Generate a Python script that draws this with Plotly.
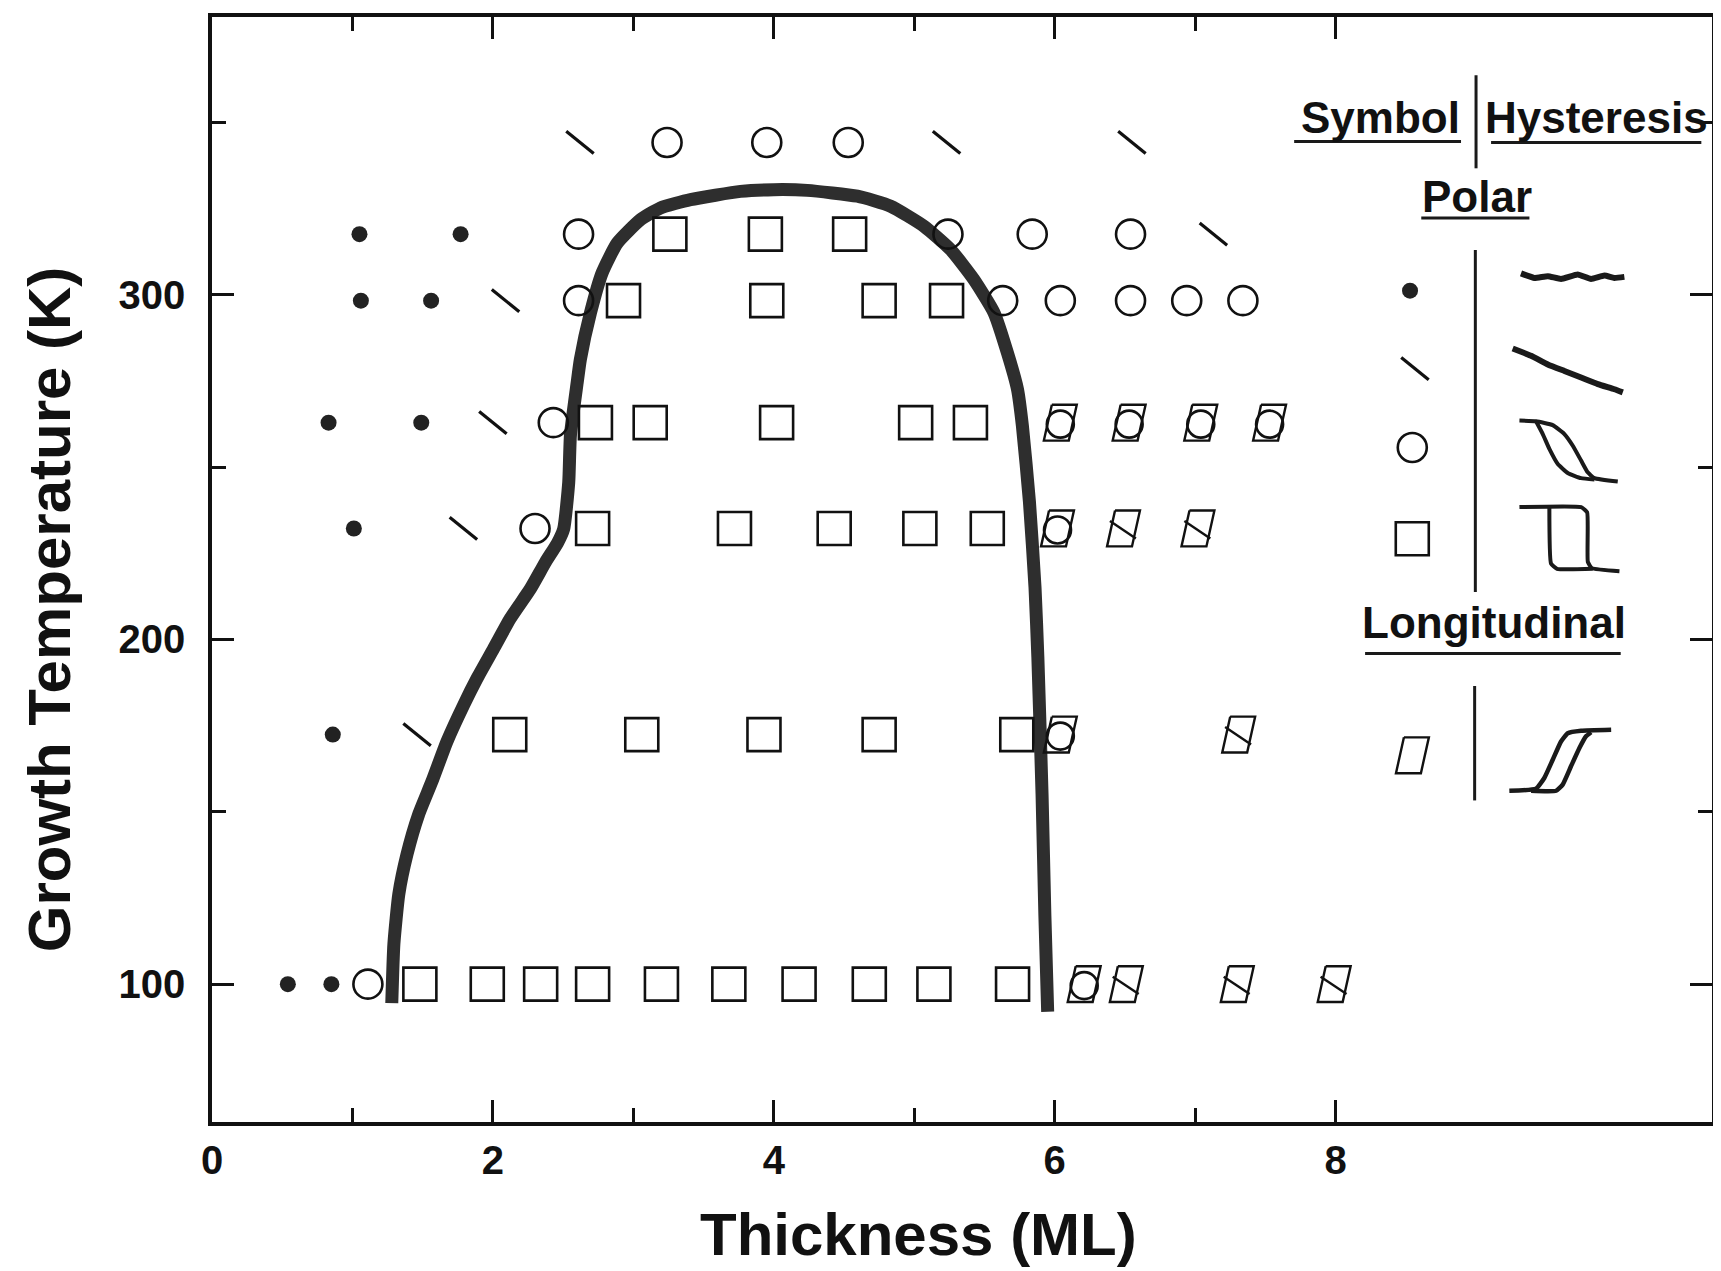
import plotly.graph_objects as go

# ---------------- data ----------------
# growth temperature (K) of each measured row
T_ROWS = [344.2, 317.6, 298.3, 262.9, 232.2, 172.4, 100.0]

# thickness (ML) of measurements per row, grouped by symbol class
dot_x = [[], [1.05, 1.77], [1.06, 1.56], [0.83, 1.49], [1.01], [0.86], [0.54, 0.85]]
slash_x = [[2.62, 5.23, 6.55], [7.13], [2.09], [2.00], [1.79], [1.46], []]
circle_x = [[3.24, 3.95, 4.53], [2.61, 5.24, 5.84, 6.54], [2.61, 5.63, 6.04, 6.54, 6.94, 7.34],
            [2.43], [2.30], [], [1.11]]
square_x = [[], [3.26, 3.94, 4.54], [2.93, 3.95, 4.75, 5.23], [2.73, 3.12, 4.02, 5.01, 5.40],
            [2.71, 3.72, 4.43, 5.04, 5.52], [2.12, 3.06, 3.93, 4.75, 5.73],
            [1.48, 1.96, 2.34, 2.71, 3.20, 3.68, 4.18, 4.68, 5.14, 5.70]]
circ_para_x = [[], [], [], [6.04, 6.53, 7.04, 7.53], [6.02], [6.04], [6.21]]
slash_para_x = [[], [], [], [], [6.49, 7.02], [7.31], [6.51, 7.30, 7.99]]

# phase boundary (thick line)
curve_x = [1.28, 1.295, 1.33, 1.388, 1.471, 1.566, 1.673, 1.792, 1.887, 2.006, 2.124, 2.267,
           2.374, 2.46, 2.504, 2.540, 2.552, 2.60, 2.623, 2.695, 2.778, 2.885, 3.051, 3.193,
           3.407, 3.763, 4.0, 4.238, 4.595, 4.832, 5.069, 5.259, 5.425, 5.568, 5.663, 5.735,
           5.770, 5.82, 5.86, 5.88, 5.91, 5.93, 5.95]
curve_T = [94.5, 111.6, 126.1, 137.6, 149.2, 158.8, 170.4, 181.0, 188.7, 197.4, 206.1, 214.7,
           222.4, 228.0, 232.1, 245.6, 259.2, 274.5, 281.3, 294.8, 306.4, 315.0, 321.8, 325.2,
           327.6, 330.0, 330.5, 330.3, 328.6, 325.7, 319.9, 313.1, 304.4, 294.8, 283.2, 272.6,
           262.0, 240.0, 215.0, 195.0, 155.0, 120.0, 92.0]

# legend sketches of hysteresis loops
hyst_flat_x = [9.320, 9.415, 9.511, 9.605, 9.724, 9.819, 9.914, 9.985, 10.056]
hyst_flat_T = [306.2, 304.9, 305.4, 304.6, 305.9, 304.6, 305.6, 304.9, 305.2]
hyst_slope_x = [9.261, 9.392, 9.511, 9.629, 9.748, 9.867, 9.985, 10.045]
hyst_slope_T = [284.4, 282.3, 279.8, 277.9, 276.0, 274.1, 272.6, 271.7]
hyst_circ_x = [9.309, 9.427, 9.546, 9.629, 9.689, 9.748, 9.795, 9.843, 10.009, None,
               9.427, 9.475, 9.522, 9.582, 9.653, 9.748, 9.843]
hyst_circ_T = [263.5, 263.3, 262.2, 259.6, 256.2, 251.9, 248.5, 246.8, 245.8, None,
               263.3, 259.6, 255.3, 250.9, 248.3, 246.8, 246.4]
hyst_sq_x = [9.309, 9.748, 9.791, 9.796, 9.824, 10.021, None, 9.522, 9.534, 9.577, 9.831]
hyst_sq_T = [238.4, 238.4, 236.9, 222.5, 220.7, 219.8, None, 238.4, 222.0, 220.5, 220.5]
hyst_long_x = [9.237, 9.427, 9.486, 9.546, 9.605, 9.653, 9.748, 9.962, None,
               9.392, 9.570, 9.617, 9.676, 9.736, 9.783, 9.819]
hyst_long_T = [156.1, 156.7, 159.8, 165.1, 170.4, 172.8, 173.5, 173.8, None,
               156.1, 156.1, 157.9, 163.2, 168.5, 171.9, 173.1]

# legend symbol positions
leg_sym_x = [8.53, 8.565, 8.546, 8.546, 8.547]
leg_sym_T = [301.2, 278.6, 255.7, 229.2, 166.4]

X_TICKS = [0, 2, 4, 6, 8]
X_MINOR = [1, 3, 5, 7]
Y_TICKS = [100, 200, 300]
Y_MINOR = [150, 250, 350]

# ---------------- layout constants ----------------
# the page body adds an 8 px margin, so the figure is 8 px smaller than the window
W, H = 1713, 1263
ML, MR, MT, MB = 204, 5, 5, 149
X_RANGE = [0, 10.68]
Y_RANGE = [60, 380.6]
PX_X = (W - ML - MR) / (X_RANGE[1] - X_RANGE[0])
PX_T = (H - MT - MB) / (Y_RANGE[1] - Y_RANGE[0])

FONT = "Liberation Sans, Arial, Helvetica, sans-serif"
INK = "#111111"


def flatten(groups):
    xs, ts = [], []
    for t, row in zip(T_ROWS, groups):
        for x in row:
            xs.append(x)
            ts.append(t)
    return xs, ts


# parallelogram outline in pixel offsets (y up)
PARA = [(-8.5, 18), (16.5, 18), (8.5, -18), (-16.5, -18), (-8.5, 18)]
PARA_SLASH = [(-13.6, 7.5), (12.4, -10.0)]


def para_path(xs, ts, slash=False):
    px, py = [], []
    for x, t in zip(xs, ts):
        for dx, dy in PARA:
            px.append(x + dx / PX_X)
            py.append(t + dy / PX_T)
        px.append(None)
        py.append(None)
        if slash:
            for dx, dy in PARA_SLASH:
                px.append(x + dx / PX_X)
                py.append(t + dy / PX_T)
            px.append(None)
            py.append(None)
    return px, py


fig = go.Figure()

# phase boundary
fig.add_trace(go.Scatter(x=curve_x, y=curve_T, mode="lines",
                         line=dict(color="#2e2e2e", width=13, shape="spline", smoothing=0.5),
                         hoverinfo="skip"))

dx_, dt_ = flatten(dot_x)
fig.add_trace(go.Scatter(x=dx_ + [leg_sym_x[0]], y=dt_ + [leg_sym_T[0]], mode="markers",
                         marker=dict(symbol="circle", size=16, color="#222222")))

sx_, st_ = flatten(slash_x)
fig.add_trace(go.Scatter(x=sx_ + [leg_sym_x[1]], y=st_ + [leg_sym_T[1]], mode="markers",
                         marker=dict(symbol="line-nw", size=25, angle=-6, color="#111111",
                                     line=dict(width=3.2, color="#111111"))))

cx_, ct_ = flatten(circle_x)
fig.add_trace(go.Scatter(x=cx_ + [leg_sym_x[2]], y=ct_ + [leg_sym_T[2]], mode="markers",
                         marker=dict(symbol="circle-open", size=29, color="#111111",
                                     line=dict(width=2.6, color="#111111"))))

qx_, qt_ = flatten(square_x)
fig.add_trace(go.Scatter(x=qx_ + [leg_sym_x[3]], y=qt_ + [leg_sym_T[3]], mode="markers",
                         marker=dict(symbol="square-open", size=33, color="#111111",
                                     line=dict(width=2.6, color="#111111"))))

# circle inside parallelogram
cpx, cpt = flatten(circ_para_x)
ppx, ppy = para_path(cpx, cpt)
fig.add_trace(go.Scatter(x=ppx, y=ppy, mode="lines",
                         line=dict(color="#111111", width=2.4), hoverinfo="skip"))
fig.add_trace(go.Scatter(x=cpx, y=[t - 1.5 / PX_T for t in cpt], mode="markers",
                         marker=dict(symbol="circle-open", size=27, color="#111111",
                                     line=dict(width=2.6, color="#111111"))))

# slash inside parallelogram
spx, spt = flatten(slash_para_x)
sppx, sppy = para_path(spx, spt, slash=True)
fig.add_trace(go.Scatter(x=sppx, y=sppy, mode="lines",
                         line=dict(color="#111111", width=2.4), hoverinfo="skip"))

# legend parallelogram
lpx, lpy = para_path([leg_sym_x[4]], [leg_sym_T[4]])
fig.add_trace(go.Scatter(x=lpx, y=lpy, mode="lines",
                         line=dict(color="#111111", width=2.4), hoverinfo="skip"))

# hysteresis sketches
for hx, ht, wdt in [(hyst_flat_x, hyst_flat_T, 6), (hyst_slope_x, hyst_slope_T, 6),
                    (hyst_circ_x, hyst_circ_T, 4), (hyst_sq_x, hyst_sq_T, 4),
                    (hyst_long_x, hyst_long_T, 4.5)]:
    fig.add_trace(go.Scatter(x=hx, y=ht, mode="lines",
                             line=dict(color="#1a1a1a", width=wdt, shape="spline", smoothing=0.4),
                             hoverinfo="skip"))

# legend texts, underlines and dividers
texts = [("Symbol", 8.323, 351.4), ("Hysteresis", 9.855, 351.4),
         ("Polar", 9.005, 328.4), ("Longitudinal", 9.13, 204.8)]
annotations = []
for txt, x, y in texts:
    annotations.append(dict(x=x, y=y, xref="x", yref="y", text="<b>%s</b>" % txt,
                            showarrow=False, xanchor="center", yanchor="middle",
                            font=dict(family=FONT, size=44, color=INK)))

# axis titles (positions given in figure pixels)
annotations.append(dict(x=(912 - ML) / (W - ML - MR), y=(H - MB - 1227) / (H - MT - MB),
                        xref="paper", yref="paper", text="<b>Thickness (ML)</b>",
                        showarrow=False, xanchor="center", yanchor="middle",
                        font=dict(family=FONT, size=60, color=INK)))
annotations.append(dict(x=(41 - ML) / (W - ML - MR), y=(H - MB - 599) / (H - MT - MB),
                        xref="paper", yref="paper", text="<b>Growth Temperature (K)</b>",
                        showarrow=False, xanchor="center", yanchor="middle", textangle=-90,
                        font=dict(family=FONT, size=60, color=INK)))

seg_lines = [((7.705, 344.5), (8.893, 344.5)), ((9.107, 344.2), (10.604, 344.2)),
             ((8.61, 322.3), (9.38, 322.3)), ((8.21, 195.9), (10.03, 195.9)),
             ((9.0, 336.7), (9.0, 363.7)), ((8.995, 213.8), (8.995, 313.0)),
             ((8.99, 153.3), (8.99, 186.5))]
shapes = [dict(type="line", xref="x", yref="y", x0=a[0], y0=a[1], x1=b[0], y1=b[1],
               line=dict(color="#1a1a1a", width=3)) for a, b in seg_lines]

axis_common = dict(showline=True, linewidth=3.5, linecolor="#111111", mirror="allticks",
                   ticks="inside", tickwidth=2.5, tickcolor="#111111", showgrid=False,
                   zeroline=False, tickfont=dict(family=FONT, size=40, color=INK, weight="bold"))

fig.update_layout(
    width=W, height=H, margin=dict(l=ML, r=MR, t=MT, b=MB),
    paper_bgcolor="white", plot_bgcolor="white", showlegend=False,
    xaxis=dict(range=X_RANGE, tickmode="array", tickvals=X_TICKS,
               ticktext=[str(v) for v in X_TICKS], ticklen=22, ticklabelstandoff=0,
               minor=dict(tickmode="array", tickvals=X_MINOR, ticks="inside", ticklen=14,
                          tickwidth=2.5, tickcolor="#111111", showgrid=False),
               **axis_common),
    yaxis=dict(range=Y_RANGE, tickmode="array", tickvals=Y_TICKS,
               ticktext=[str(v) for v in Y_TICKS], ticklen=22, ticklabelstandoff=15,
               minor=dict(tickmode="array", tickvals=Y_MINOR, ticks="inside", ticklen=14,
                          tickwidth=2.5, tickcolor="#111111", showgrid=False),
               **axis_common),
    annotations=annotations, shapes=shapes,
)

fig.write_html("out.html")
